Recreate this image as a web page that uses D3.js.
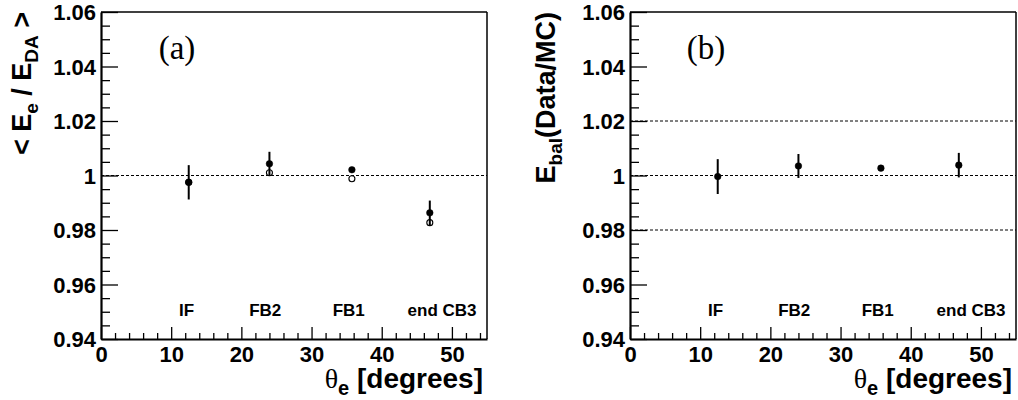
<!DOCTYPE html>
<html><head><meta charset="utf-8">
<script src="https://cdn.jsdelivr.net/npm/d3@7"></script>
<style>body{margin:0;background:#fff}</style>
</head><body><svg id="c" width="1018" height="400"></svg>
<script>
const thetaPos = [12.5, 24.0, 35.75, 46.85];
const ratioFilled = [0.9975, 1.0043, 1.0021, 0.9863];
const ratioFilledErr = [0.0063, 0.0044, 0.0010, 0.0045];
const ratioOpen = [0.9975, 1.0010, 0.9988, 0.9827];
const ebalValues = [0.9996, 1.0035, 1.0027, 1.0038];
const ebalErr = [0.0064, 0.0044, 0.0010, 0.0045];
const regionLabels = ["IF", "FB2", "FB1", "end CB3"];
const regionLabelPos = [12.2, 23.4, 35.3, 48.6];
const regionLabelY = 0.9484;
const xTicks = [0, 10, 20, 30, 40, 50];
const xTickLabels = ["0", "10", "20", "30", "40", "50"];
const yTicks = [0.94, 0.96, 0.98, 1, 1.02, 1.04, 1.06];
const yTickLabels = ["0.94", "0.96", "0.98", "1", "1.02", "1.04", "1.06"];
const refLinesA = [1];
const refLinesB = [0.98, 1, 1.02];

const svg = d3.select("#c");
const SANS = "'Liberation Sans', Arial, Helvetica, sans-serif";
const SERIF = "'Liberation Serif', 'Times New Roman', serif";

function panel(opt) {
  const x = d3.scaleLinear().domain([0, 55]).range([opt.left, opt.right]);
  const y = d3.scaleLinear().domain([0.94, 1.06]).range([339, 12]);
  const g = svg.append("g");

  // frame top/right
  g.append("line").attr("x1", opt.left).attr("x2", opt.right).attr("y1", y(1.06)).attr("y2", y(1.06))
    .attr("stroke", "#000").attr("stroke-width", 1.5);
  g.append("line").attr("x1", opt.right).attr("x2", opt.right).attr("y1", y(1.06)).attr("y2", y(0.94))
    .attr("stroke", "#000").attr("stroke-width", 1.5);

  // reference dashed lines
  g.selectAll(".ref").data(opt.refs).join("line")
    .attr("x1", opt.left).attr("x2", opt.right)
    .attr("y1", d => y(d)).attr("y2", d => y(d))
    .attr("stroke", "#000").attr("stroke-width", 1).attr("stroke-dasharray", "3,2");

  // minor ticks
  const xMinor = d3.range(0, 55.001, 2).filter(v => v % 10 !== 0);
  const yMinor = d3.range(0, 25).map(i => 0.94 + i * 0.005).filter((v, i) => i % 4 !== 0);
  g.append("g").attr("transform", `translate(0,${y(0.94)})`)
    .call(d3.axisBottom(x).tickValues(xMinor).tickSize(-6).tickSizeOuter(0).tickFormat(""))
    .call(s => s.select(".domain").remove())
    .selectAll("line").attr("stroke-width", 1.3);
  g.append("g").attr("transform", `translate(${opt.left},0)`)
    .call(d3.axisLeft(y).tickValues(yMinor).tickSize(-9).tickSizeOuter(0).tickFormat(""))
    .call(s => s.select(".domain").remove())
    .selectAll("line").attr("stroke-width", 1.3);

  // major axes
  const xa = g.append("g").attr("transform", `translate(0,${y(0.94)})`)
    .call(d3.axisBottom(x).tickValues(xTicks).tickSize(-12).tickSizeOuter(0).tickPadding(6)
      .tickFormat((d, i) => xTickLabels[i]));
  xa.select(".domain").attr("stroke-width", 2.2);
  xa.selectAll("line").attr("stroke-width", 1.3);
  xa.selectAll("text").attr("font-family", SANS).attr("font-weight", "bold").attr("font-size", 22)
    .attr("fill", "#000").attr("dy", "0.78em");
  const ya = g.append("g").attr("transform", `translate(${opt.left},0)`)
    .call(d3.axisLeft(y).tickValues(yTicks).tickSize(-17).tickSizeOuter(0).tickPadding(5)
      .tickFormat((d, i) => yTickLabels[i]));
  ya.select(".domain").attr("stroke-width", 2.2);
  ya.selectAll("line").attr("stroke-width", 1.3);
  ya.selectAll("text").attr("font-family", SANS).attr("font-weight", "bold").attr("font-size", 22)
    .attr("fill", "#000").attr("dy", "0.36em");

  // region labels
  g.selectAll(".reg").data(regionLabels).join("text")
    .attr("x", (d, i) => x(regionLabelPos[i])).attr("y", y(regionLabelY))
    .attr("text-anchor", "middle").attr("font-family", SANS).attr("font-weight", "bold")
    .attr("font-size", 17).text(d => d);

  // panel label
  g.append("text").attr("x", opt.left + 76).attr("y", 59).attr("text-anchor", "middle")
    .attr("font-family", SERIF).attr("font-size", 33).text(opt.tag);

  // x title
  const xt = g.append("text").attr("x", opt.right - 4).attr("y", 388).attr("text-anchor", "end")
    .attr("font-family", SANS).attr("font-weight", "bold").attr("font-size", 28);
  xt.append("tspan").attr("font-family", SERIF).attr("font-weight", "normal").text("θ");
  xt.append("tspan").attr("font-size", 20).attr("dy", 7).text("e");
  xt.append("tspan").attr("dy", -7).text(" [degrees]");

  // y title
  const yt = g.append("text").attr("transform", `translate(${opt.titleX},12) rotate(-90)`)
    .attr("text-anchor", "end").attr("font-family", SANS).attr("font-weight", "bold").attr("font-size", 27);
  opt.ytitle(yt);

  // error bars and markers
  opt.series.forEach(s => {
    if (s.err) {
      g.selectAll(null).data(s.vals).join("line")
        .attr("x1", (d, i) => x(thetaPos[i])).attr("x2", (d, i) => x(thetaPos[i]))
        .attr("y1", (d, i) => y(d + s.err[i])).attr("y2", (d, i) => y(d - s.err[i]))
        .attr("stroke", "#000").attr("stroke-width", 2);
    }
    g.selectAll(null).data(s.vals).join("circle")
      .attr("cx", (d, i) => x(thetaPos[i])).attr("cy", d => y(d)).attr("r", s.open ? 3 : 3.3)
      .attr("fill", s.open ? "#fff" : "#000").attr("stroke", "#000").attr("stroke-width", s.open ? 1.1 : 0.5);
  });
}

panel({
  left: 101, right: 487, refs: refLinesA, tag: "(a)", titleX: 31,
  ytitle: t => {
    t.append("tspan").text("< E");
    t.append("tspan").attr("font-size", 19).attr("dy", 7).text("e");
    t.append("tspan").attr("dy", -7).text(" / E");
    t.append("tspan").attr("font-size", 19).attr("dy", 7).text("DA");
    t.append("tspan").attr("dy", -7).text(" >");
  },
  series: [
    { vals: ratioOpen, open: true },
    { vals: ratioFilled, err: ratioFilledErr, open: false }
  ]
});

panel({
  left: 630, right: 1016, refs: refLinesB, tag: "(b)", titleX: 555,
  ytitle: t => {
    t.append("tspan").text("E");
    t.append("tspan").attr("font-size", 19).attr("dy", 7).text("bal");
    t.append("tspan").attr("dy", -7).text("(Data/MC)");
  },
  series: [
    { vals: ebalValues, err: ebalErr, open: false }
  ]
});
</script></body></html>
